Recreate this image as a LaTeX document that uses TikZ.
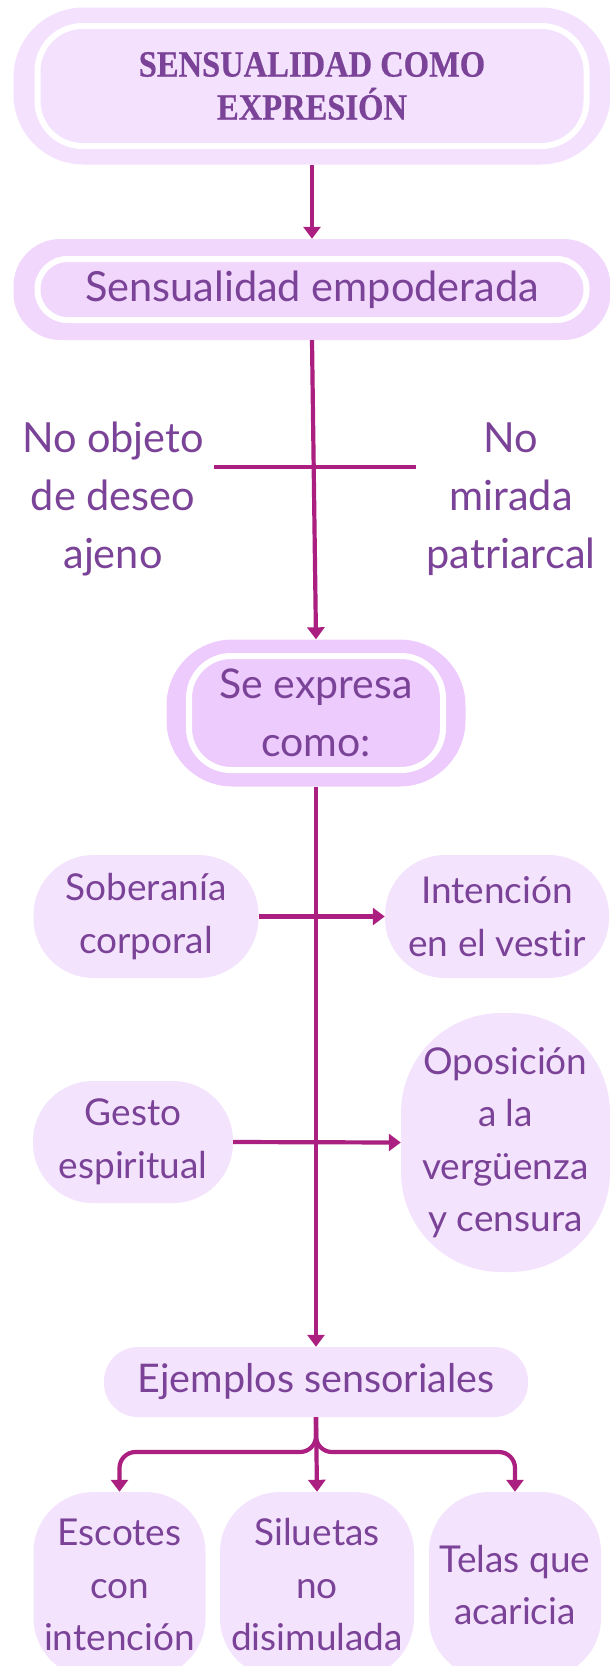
\documentclass[tikz,border=0pt]{standalone}
\usepackage{fontspec}
\setmainfont{Lato}[Ligatures=CommonOff]
\newfontfamily\titleserif[FakeStretch=0.88, FakeBold=0.6]{Liberation Serif}
\usepackage{tikz}
\usetikzlibrary{arrows.meta, positioning, fit, backgrounds}
\definecolor{inkpurple}{RGB}{123, 67,152}
\definecolor{linkmag}{RGB}{170, 31,128}
\definecolor{pillfill}{RGB}{244,227,253}
\definecolor{titlefill}{RGB}{243,225,253}
\definecolor{empfill}{RGB}{241,215,252}
\definecolor{expfill}{RGB}{237,203,252}

\begin{document}
\begin{tikzpicture}[
    x=1pt, y=-1pt,
    ringbox/.style={rectangle, rounded corners=#1, draw=white, line width=6pt,
                    align=center, text=inkpurple, inner sep=0pt},
    halo/.style={rectangle, rounded corners=#1},
    softpill/.style={rectangle, rounded corners=#1, fill=pillfill, align=center,
                     text=inkpurple, inner sep=0pt,
                     font=\fontsize{37}{52.5}\selectfont},
    sidelabel/.style={align=center, text=inkpurple, inner xsep=10pt, inner ysep=0pt,
                      font=\fontsize{41.5}{58}\selectfont},
    link/.style={draw=linkmag, line width=4.2pt,
                 -{Triangle[width=17pt, length=12pt]}},
    bar/.style={draw=linkmag, line width=4.2pt},
]
\useasboundingbox (0,0) rectangle (610,1666);
\clip (0,0) rectangle (610,1666);

% title and the two ringed boxes
\node[ringbox=45pt, fill=titlefill, minimum width=549pt, minimum height=120pt,
      font=\titleserif\bfseries\fontsize{37}{43}\selectfont] (title) at (312,86)
  {SENSUALIDAD COMO\\EXPRESIÓN};
\node[ringbox=30pt, fill=empfill, minimum width=549pt, minimum height=61pt,
      font=\fontsize{41.5}{58}\selectfont] (empow) at (312,289.5)
  {Sensualidad empoderada};
\node[ringbox=42pt, fill=expfill, minimum width=254pt, minimum height=114pt,
      font=\fontsize{41}{58}\selectfont] (expresa) at (316,713)
  {Se expresa\\como:};
\begin{scope}[on background layer]
  \node[halo=70pt, fill=titlefill, fit=(title), inner xsep=21pt, inner ysep=15.5pt] (titlebg) {};
  \node[halo=47pt, fill=empfill, fit=(empow), inner xsep=21pt, inner ysep=17pt] (empowbg) {};
  \node[halo=66pt, fill=expfill, fit=(expresa), inner xsep=19.5pt, inner ysep=13.5pt] (expresabg) {};
\end{scope}

% the crossing labels
\node[sidelabel] (noobjeto) at (113,499) {No objeto\\de deseo\\ajeno};
\node[sidelabel] (nomirada) at (511,499) {No\\mirada\\patriarcal};
\coordinate (crossing) at (316,467);

% forms of expression
\node[softpill=60pt, minimum width=225pt, minimum height=123pt] (soberania) at (146,916.5)
  {Soberanía\\corporal};
\node[softpill=60pt, minimum width=224pt, minimum height=123pt] (intencion) at (497,916.5)
  {Intención\\en el vestir};
\node[softpill=60pt, minimum width=200pt, minimum height=122pt] (gesto) at (133,1142)
  {Gesto\\espiritual};
\node[softpill=100pt, minimum width=209pt, minimum height=259pt] (oposicion) at (505.5,1142.5)
  {Oposición\\a la\\vergüenza\\y censura};

% examples
\node[softpill=34pt, minimum width=424pt, minimum height=70pt,
      font=\fontsize{39.5}{52}\selectfont] (ejemplos) at (316,1382)
  {Ejemplos sensoriales};
\coordinate (fork) at (316,1452);
\node[softpill=60pt, minimum width=172pt, minimum height=186pt] (escotes) at (119.5,1585)
  {Escotes\\con\\intención};
\node[softpill=60pt, minimum width=194pt, minimum height=186pt] (siluetas) at (317,1585)
  {Siluetas\\no\\disimulada};
\node[softpill=60pt, minimum width=172pt, minimum height=186pt] (telas) at (515,1585)
  {Telas que\\acaricia};

% connectors
\draw[link] (titlebg.south) -- (empowbg.north);
\draw[link] (empowbg.south) -- (expresabg.north);
\draw[bar] (noobjeto.east |- crossing) -- (nomirada.west |- crossing);
\draw[link] (expresabg.south) -- (ejemplos.north);
\draw[link] (soberania.east) -- (intencion.west);
\draw[link] (gesto.east) -- (oposicion.west);
\draw[link, rounded corners=16pt] (ejemplos.south) -- (ejemplos.south |- fork)
  -- (escotes.north |- fork) -- (escotes.north);
\draw[link] (ejemplos.south) -- (siluetas.north);
\draw[link, rounded corners=16pt] (ejemplos.south) -- (ejemplos.south |- fork)
  -- (telas.north |- fork) -- (telas.north);
\end{tikzpicture}
\end{document}
